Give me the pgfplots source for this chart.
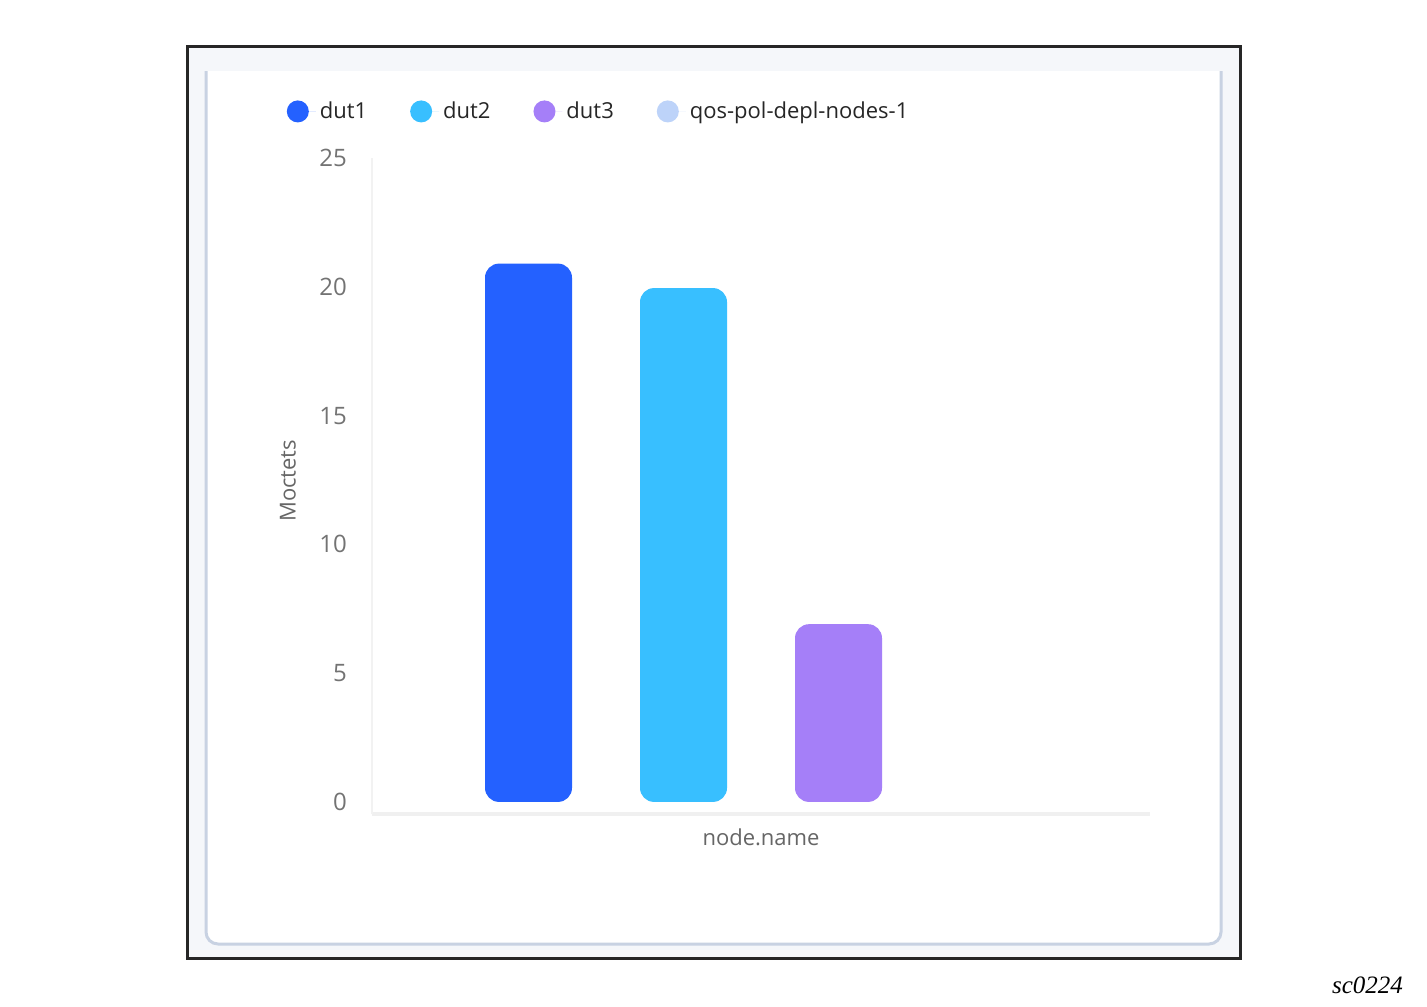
\documentclass[border=0pt]{standalone}
\usepackage{pgfplots}
\pgfplotsset{compat=1.18}
\usepackage{fontspec}
\setmainfont{Open Sans}
\newfontfamily\capfont{Liberation Serif}

\definecolor{cdut1}{HTML}{2461FF}
\definecolor{cdut2}{HTML}{38BFFF}
\definecolor{cdut3}{HTML}{A57FF8}
\definecolor{cqos}{HTML}{BDD3F9}
\definecolor{cardline}{HTML}{C8D2E2}
\definecolor{strip}{HTML}{F5F7FA}

\begin{document}
\begin{tikzpicture}
% frame and card, in pixel units of the reference
\begin{scope}[x=0.5pt, y=-0.5pt]
  \path (0,0) rectangle (1427,1006);
  \fill[strip] (187,47) rectangle (1240,958);
  \filldraw[fill=white, draw=cardline, line width=1.5pt, rounded corners=6pt]
    (206,60) -- (206,944) -- (1221,944) -- (1221,60);
  \fill[strip] (189,49) rectangle (1238,71);
  \draw[black!85, line width=1.5pt] (187,47) rectangle (1240,958);
  \node[anchor=base east, font=\capfont\itshape\fontsize{12.5}{14}\selectfont]
    at (1410,993) {sc0224};
  \coordinate (O) at (372,814);
\end{scope}

\begin{axis}[
  at={(O)}, anchor=south west,
  scale only axis,
  width=389pt, height=328pt,
  ybar=34pt, bar width=43.5pt,
  xmin=-1, xmax=1,
  ymin=-0.47, ymax=25,
  xtick=\empty,
  ytick={0,5,...,25},
  axis x line*=bottom, axis y line*=left,
  x axis line style={black!6, line width=2pt, -},
  y axis line style={black!5, line width=1pt, -},
  ytick style={draw=none},
  yticklabel style={font=\fontsize{12}{14}\selectfont, text=black!55, xshift=-9pt},
  /pgf/number format/assume math mode=true,
  ylabel={Moctets},
  ylabel style={at={(axis description cs:-0.108,0.508)}, anchor=center,
    font=\fontsize{11}{13}\selectfont, text=black!60},
  xlabel={node.name},
  xlabel style={at={(axis description cs:0.5,-0.035)}, anchor=center,
    font=\fontsize{11}{13}\selectfont, text=black!60},
  legend columns=4,
  legend style={at={(axis description cs:-0.1177,1.071)}, anchor=west,
    draw=none, fill=none, font=\fontsize{11}{13}\selectfont, text=black!85,
    /tikz/every even column/.append style={column sep=19.5pt}},
  legend image code/.code={\path (-5.5pt,0) -- (9pt,0); \fill[#1] (0pt,0) circle (5.5pt);},
  every axis plot/.append style={draw=none, rounded corners=7pt},
  clip=false,
]
\addplot[fill=cdut1] coordinates {(0,20.9)};
\addplot[fill=cdut2] coordinates {(0,19.95)};
\addplot[fill=cdut3] coordinates {(0,6.9)};
\addplot[fill=cqos, fill opacity=0, legend image post style={fill opacity=1}]
  coordinates {(0,0)};
\legend{dut1,dut2,dut3,qos-pol-depl-nodes-1}
\end{axis}
\end{tikzpicture}
\end{document}
